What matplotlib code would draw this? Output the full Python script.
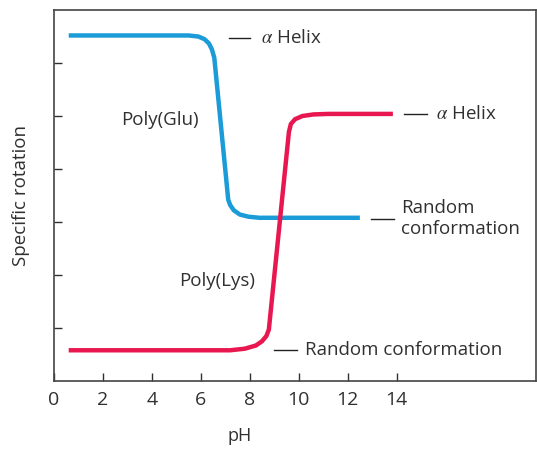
import matplotlib
matplotlib.use("Agg")
import matplotlib.pyplot as plt

# curve points (pH, specific rotation in arbitrary units)
glu_ph = [0.6, 5.5, 5.9, 6.15, 6.33, 6.45, 6.55, 7.12, 7.2, 7.35, 7.6, 7.95, 8.4, 12.5]
glu_rot = [6.52, 6.52, 6.50, 6.45, 6.37, 6.26, 6.10, 3.42, 3.32, 3.22, 3.14, 3.10, 3.08, 3.08]

lys_ph = [0.6, 7.2, 7.8, 8.25, 8.5, 8.68, 8.78, 9.60, 9.68, 9.85, 10.15, 10.6, 11.2, 13.85]
lys_rot = [0.58, 0.58, 0.61, 0.67, 0.75, 0.85, 0.97, 4.70, 4.85, 4.94, 5.00, 5.03, 5.04, 5.04]

x_ticks = [0, 2, 4, 6, 8, 10, 12, 14]
y_ticks = [1, 2, 3, 4, 5, 6]

blue = "#1b9bd7"
red = "#e8174f"
txt = "#303030"

plt.rcParams['font.family'] = ['Open Sans', 'DejaVu Sans']
plt.rcParams['mathtext.fontset'] = 'stix'

fig = plt.figure(figsize=(5.37, 4.5), dpi=100)
ax = fig.add_axes([0.1006, 0.1533, 0.8976, 0.8244])

ax.plot(glu_ph, glu_rot, color=blue, lw=3.2, solid_joinstyle='round', solid_capstyle='butt')
ax.plot(lys_ph, lys_rot, color=red, lw=3.2, solid_joinstyle='round', solid_capstyle='butt')

ax.set_xlim(0, 19.7)
ax.set_ylim(0, 7)
ax.set_xticks(x_ticks)
ax.set_xticklabels([str(t) for t in x_ticks])
ax.set_yticks(y_ticks)
ax.set_yticklabels([])
ax.tick_params(direction='in', length=6, width=1, color=txt, labelsize=14, labelcolor=txt, pad=7)
for s in ax.spines.values():
    s.set_color("#444444")
    s.set_linewidth(1.2)

ax.set_xlabel("pH", fontsize=13, color=txt)
ax.xaxis.set_label_coords(0.385, -0.125)
ax.set_ylabel("Specific rotation", fontsize=13.5, color=txt)
ax.yaxis.set_label_coords(-0.05, 0.5)

# annotations: short dash + label
def note(x0, x1, y, label, tx):
    ax.plot([x0, x1], [y, y], color="#222222", lw=1)
    ax.text(tx, y, label, fontsize=13.5, color=txt, va='center', ha='left')

note(7.14, 8.0, 6.47, r"$\alpha$ Helix", 8.45)
note(14.3, 15.25, 5.04, r"$\alpha$ Helix", 15.6)
note(12.95, 13.9, 3.06, "Random\nconformation", 14.2)
note(9.0, 9.95, 0.58, "Random conformation", 10.25)

ax.text(2.75, 4.93, "Poly(Glu)", fontsize=13.5, color=txt, va='center')
ax.text(5.1, 1.89, "Poly(Lys)", fontsize=13.5, color=txt, va='center')

fig.savefig("out.png", dpi=100)
